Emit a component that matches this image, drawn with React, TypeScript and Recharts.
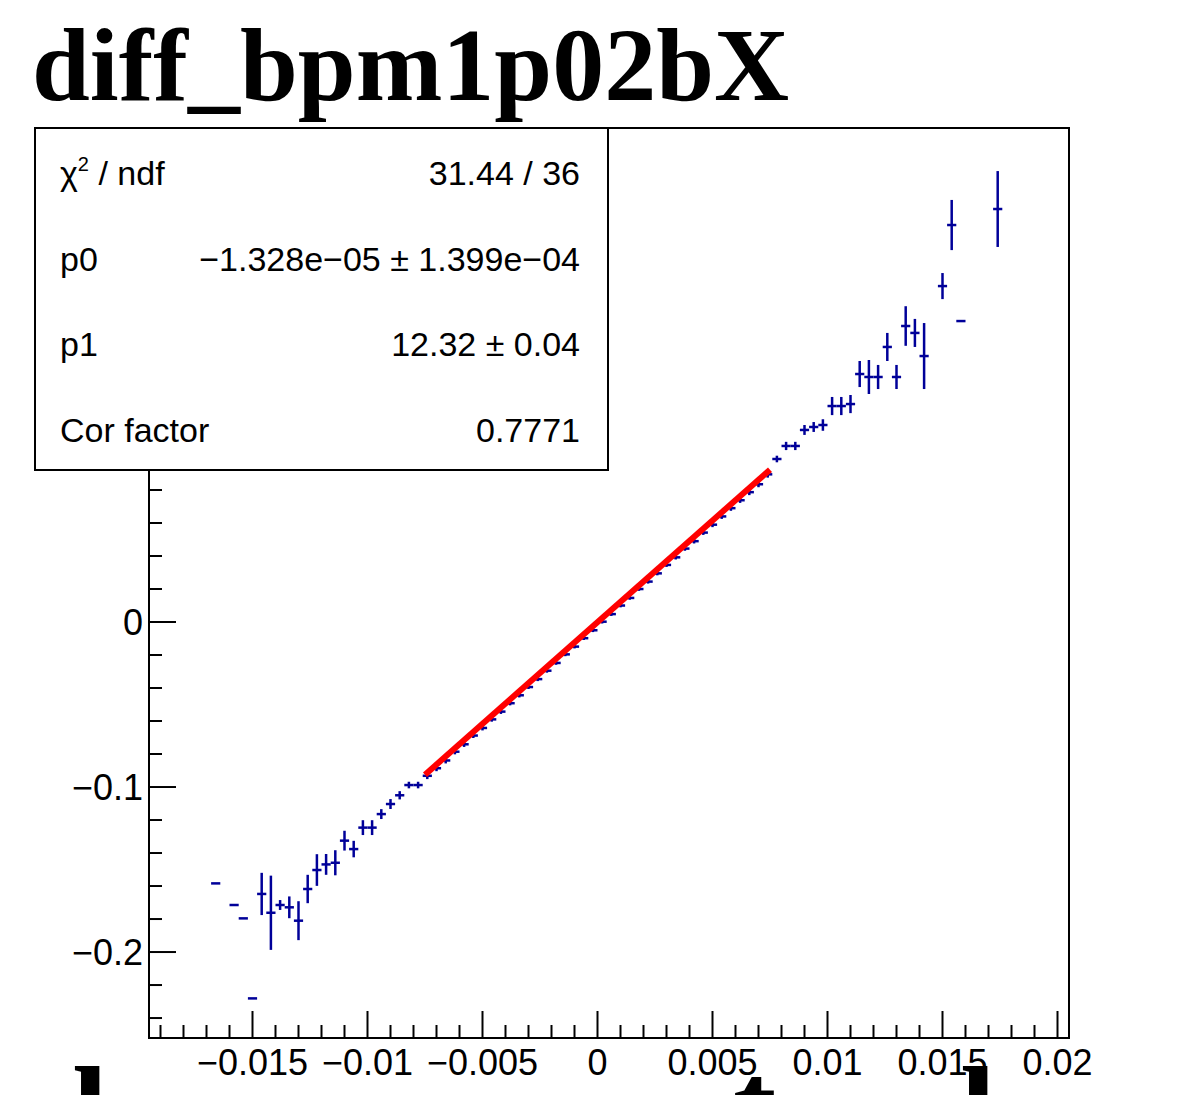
import React from "react";
import { ComposedChart, ErrorBar, ReferenceArea, Scatter, XAxis, YAxis } from "recharts";

// profile bins (bin centres)
const binX = [
  -0.0166, -0.0158, -0.0154, -0.015, -0.0146, -0.0142, -0.0138, -0.0134, -0.013, -0.0126,
  -0.0122, -0.0118, -0.0114, -0.011, -0.0106, -0.0102, -0.0098, -0.0094, -0.009, -0.0086,
  -0.0082, -0.0078,
  -0.0074, -0.007, -0.0066, -0.0062, -0.0058, -0.0054, -0.005, -0.0046, -0.0042, -0.0038,
  -0.0034, -0.003, -0.0026, -0.0022, -0.0018, -0.0014, -0.001, -0.0006, -0.0002, 0.0002,
  0.0006, 0.001, 0.0014, 0.0018, 0.0022, 0.0026, 0.003, 0.0034, 0.0038, 0.0042,
  0.0046, 0.005, 0.0054, 0.0058, 0.0062, 0.0066, 0.007, 0.0074,
  0.0078, 0.0082, 0.0086, 0.009, 0.0094, 0.0098, 0.0102, 0.0106, 0.011, 0.0114,
  0.0118, 0.0122, 0.0126, 0.013, 0.0134, 0.0138, 0.0142, 0.015, 0.0154, 0.0158, 0.0174,
];

const binY = [
  -0.1584, -0.1715, -0.1796, -0.2281, -0.1648, -0.1762, -0.1715, -0.1729, -0.181, -0.1618,
  -0.1503, -0.1469, -0.1459, -0.1325, -0.1376, -0.1246, -0.1246, -0.1164, -0.1103, -0.105,
  -0.0988, -0.0988,
  -0.0932, -0.0886, -0.0839, -0.0786, -0.0741, -0.0688, -0.0642, -0.059, -0.0543, -0.0492,
  -0.0444, -0.0394, -0.0346, -0.0295, -0.0248, -0.0196, -0.0149, -0.0098, -0.005, 0.0002,
  0.0048, 0.01, 0.0146, 0.02, 0.0245, 0.0295, 0.0346, 0.0392, 0.0445, 0.049,
  0.0542, 0.059, 0.064, 0.069, 0.0738, 0.0787, 0.0835, 0.0895,
  0.0988, 0.1067, 0.1067, 0.1164, 0.1182, 0.1194, 0.1309, 0.1309, 0.1321, 0.1503,
  0.1485, 0.1485, 0.1667, 0.1485, 0.1794, 0.1752, 0.1612, 0.2036, 0.2406, 0.1824, 0.2503,
];

const binErrY = [
  0, 0, 0, 0, 0.0128, 0.0225, 0.003, 0.0066, 0.0118, 0.0086,
  0.0096, 0.0063, 0.0076, 0.006, 0.005, 0.0045, 0.0045, 0.003, 0.003, 0.0025,
  0.002, 0.002,
  0.002, 0.0018, 0.0018, 0.0016, 0.0016, 0.0015, 0.0015, 0.0014, 0.0014, 0.0013,
  0.0013, 0.0012, 0.0012, 0.0012, 0.0011, 0.0011, 0.0011, 0.0011, 0.0011, 0.0011,
  0.0011, 0.0011, 0.0011, 0.0011, 0.0012, 0.0012, 0.0012, 0.0013, 0.0013, 0.0014,
  0.0014, 0.0015, 0.0015, 0.0016, 0.0016, 0.0018, 0.0018, 0.002,
  0.002, 0.0025, 0.0025, 0.003, 0.003, 0.0035, 0.0055, 0.0055, 0.0055, 0.0079,
  0.0103, 0.0073, 0.0085, 0.0073, 0.012, 0.0085, 0.02, 0.0079, 0.0152, 0, 0.023,
];

const HALF_BIN = 0.0002;

// fitted straight line, end points
const fitX = [-0.0075, 0.0075];
const fitY = [-0.0925, 0.0923];

const statLabels = ["χ2 / ndf", "p0", "p1", "Cor factor"];
const statValues = ["31.44 / 36", "\u22121.328e\u221205 \u00b1 1.399e\u221204", "12.32 \u00b1 0.04", "0.7771"];

const X_DOMAIN: [number, number] = [-0.0195, 0.0205];
const Y_DOMAIN: [number, number] = [-0.2521, 0.2994];

const makeTicks = (from: number, to: number, step: number) => {
  const out: number[] = [];
  for (let v = from; v <= to + step / 2; v += step) out.push(Math.round(v * 1e6) / 1e6);
  return out;
};
const xTicks = makeTicks(-0.019, 0.02, 0.001);
const yTicks = makeTicks(-0.24, 0.28, 0.02);

const isMultiple = (v: number, step: number) => Math.abs(v / step - Math.round(v / step)) < 1e-6;
const fmt = (v: number) =>
  Math.abs(v) < 1e-12 ? "0" : String(Number(v.toPrecision(6))).replace("-", "\u2212");

const SANS = "'Liberation Sans', Arial, Helvetica, sans-serif";
const SERIF = "'Liberation Serif', 'Times New Roman', serif";
const BLUE = "#000099";

const renderXTick = (props: any) => {
  const { x, y, payload } = props;
  const major = isMultiple(payload.value, 0.005);
  return (
    <g>
      <line x1={x} x2={x} y1={y} y2={y - (major ? 27 : 13)} stroke="#000" strokeWidth={2} />
      {major && (
        <text x={x} y={y + 37} textAnchor="middle" fontSize={36} fontFamily={SANS} fill="#000">
          {fmt(payload.value)}
        </text>
      )}
    </g>
  );
};

const renderYTick = (props: any) => {
  const { x, y, payload } = props;
  const major = isMultiple(payload.value, 0.1);
  return (
    <g>
      <line x1={x} x2={x + (major ? 27 : 13)} y1={y} y2={y} stroke="#000" strokeWidth={2} />
      {major && (
        <text x={x - 6} y={y + 13} textAnchor="end" fontSize={36} fontFamily={SANS} fill="#000">
          {fmt(payload.value)}
        </text>
      )}
    </g>
  );
};

const noMarker = () => <g />;

export default function App() {
  const rows = binX.map((x, i) => ({ x, y: binY[i], ex: HALF_BIN, ey: binErrY[i] }));
  const fitRows = fitX.map((x, i) => ({ x, y: fitY[i] }));

  return (
    <div
      style={{
        position: "fixed",
        left: 0,
        top: 0,
        width: 1177,
        height: 1095,
        background: "#fff",
        overflow: "hidden",
      }}
    >
      <div style={{ position: "absolute", left: 0, top: 0 }}>
        <ComposedChart width={1177} height={1095} margin={{ top: 128, right: 108, bottom: 56, left: 148 }}>
          <XAxis
            type="number"
            dataKey="x"
            domain={X_DOMAIN}
            ticks={xTicks}
            interval={0}
            allowDataOverflow
            height={1}
            tickSize={0}
            tickMargin={0}
            tickLine={false}
            axisLine={{ stroke: "#000", strokeWidth: 2 }}
            tick={renderXTick}
          />
          <YAxis
            type="number"
            dataKey="y"
            domain={Y_DOMAIN}
            ticks={yTicks}
            interval={0}
            allowDataOverflow
            width={1}
            tickSize={0}
            tickMargin={0}
            tickLine={false}
            axisLine={{ stroke: "#000", strokeWidth: 2 }}
            tick={renderYTick}
          />
          <ReferenceArea
            x1={X_DOMAIN[0]}
            x2={X_DOMAIN[1]}
            y1={Y_DOMAIN[0]}
            y2={Y_DOMAIN[1]}
            fill="none"
            fillOpacity={0}
            stroke="#000"
            strokeWidth={2}
          />
          <Scatter data={rows} dataKey="y" fill={BLUE} shape={noMarker} isAnimationActive={false}>
            <ErrorBar dataKey="ex" direction="x" width={0} stroke={BLUE} strokeWidth={2.5} isAnimationActive={false} />
            <ErrorBar dataKey="ey" direction="y" width={0} stroke={BLUE} strokeWidth={2.5} isAnimationActive={false} />
          </Scatter>
          <Scatter
            data={fitRows}
            dataKey="y"
            shape={noMarker}
            line={{ stroke: "#ff0000", strokeWidth: 6 }}
            lineType="joint"
            isAnimationActive={false}
          />
        </ComposedChart>
      </div>

      <svg width={1177} height={1095} style={{ position: "absolute", left: 0, top: 0 }}>
        <text x={32} y={100} fontSize={104} fontWeight="bold" fontFamily={SERIF} fill="#000">
          diff_bpm1p02bX
        </text>

        <rect x={35} y={128} width={573} height={342} fill="#fff" stroke="#000" strokeWidth={2} />
        {statLabels.map((label, i) => (
          <text key={label} x={60} y={185 + i * 85.5} fontSize={34} fontFamily={SANS} fill="#000">
            {i === 0 ? (
              <>
                <tspan>χ</tspan>
                <tspan dy={-14} fontSize={20}>2</tspan>
                <tspan dy={14}> / ndf</tspan>
              </>
            ) : (
              label
            )}
          </text>
        ))}
        {statValues.map((value, i) => (
          <text key={value} x={580} y={185 + i * 85.5} textAnchor="end" fontSize={34} fontFamily={SANS} fill="#000">
            {value}
          </text>
        ))}

        <g fontSize={130} fontWeight="bold" fontFamily={SERIF} fill="#000">
          <text x={72} y={1156}>l</text>
          <text x={733} y={1150}>t</text>
          <text x={960} y={1156}>l</text>
        </g>
      </svg>
    </div>
  );
}
